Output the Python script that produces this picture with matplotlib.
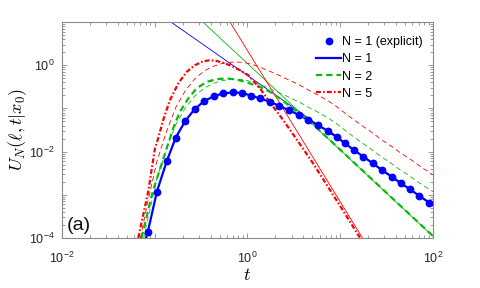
import matplotlib
matplotlib.use('Agg')
import matplotlib.pyplot as plt
from matplotlib.ticker import FixedLocator, FuncFormatter
import math

plt.rcParams['font.family'] = ['Liberation Sans', 'DejaVu Sans']
plt.rcParams['mathtext.fontset'] = 'cm'

# ---------------- data ----------------
# N = 1, explicit result (markers)
t_explicit = [0.0845, 0.1057, 0.1355, 0.1683, 0.2133, 0.270, 0.342, 0.436, 0.548, 0.692,
              0.873, 1.091, 1.365, 1.750, 2.203, 2.825, 3.622, 4.529, 5.794, 7.328,
              9.162, 11.25, 14.06, 17.74, 22.39, 27.99, 35.89, 44.87, 56.49, 71.12, 91.20]
u_explicit = [1.41e-4, 1.19e-3, 6.17e-3, 0.0209, 0.0509, 0.0964, 0.1476, 0.1923, 0.2218, 0.2344,
              0.2291, 0.1980, 0.1702, 0.1419, 0.1148, 0.0899, 0.0700, 0.0537, 0.0405, 0.0304,
              0.0221, 0.01556, 0.01089, 7.62e-3, 5.37e-3, 3.76e-3, 2.63e-3, 1.85e-3, 1.35e-3, 9.44e-4, 6.61e-4]

# N = 1 curve
t_n1 = [0.0806] + t_explicit + [100.0]
u_n1 = [1.0e-4] + u_explicit + [5.75e-4]

# N = 2 curve
t_n2 = [0.0722, 0.0951, 0.1346, 0.158, 0.187, 0.230, 0.283, 0.363, 0.466, 0.597, 0.766,
        1.02, 1.36, 1.75, 2.24, 2.87, 3.68, 4.72, 6.05, 8.09, 100.0]
u_n2 = [1.0e-4, 1.17e-3, 0.0119, 0.0345, 0.0834, 0.170, 0.290, 0.411, 0.475, 0.493, 0.468,
        0.390, 0.315, 0.242, 0.170, 0.112, 0.076, 0.049, 0.030, 0.0169, 1.11e-4]

# N = 5 curve
t_n5 = [0.0665, 0.0851, 0.1007, 0.1076, 0.1236, 0.146, 0.1795, 0.221, 0.272, 0.333, 0.394,
        0.466, 0.548, 0.647, 0.830, 1.02, 1.36, 1.897, 2.43, 3.25, 5.0, 10.0, 16.3]
u_n5 = [1.0e-4, 1.17e-3, 0.0119, 0.0185, 0.0537, 0.1556, 0.378, 0.70, 1.0, 1.236, 1.30,
        1.256, 1.13, 1.0, 0.767, 0.587, 0.294, 0.109, 0.0537, 0.0219, 5.7e-3, 5.5e-4, 1.02e-4]

# thin dashed reference curves (N = 2 and N = 5)
t_ref = [0.0845, 0.1057, 0.1355, 0.1683, 0.2133, 0.270, 0.342, 0.436, 0.548, 0.692,
         0.873, 1.091, 1.365, 1.750, 2.203, 2.825, 3.622, 4.529, 5.794, 7.328,
         9.162, 11.25, 14.06, 17.74, 22.39, 27.99, 35.89, 44.87, 56.49, 71.12, 100.0]
u_ref2 = [2.8e-4, 2.4e-3, 0.0124, 0.0418, 0.102, 0.193, 0.295, 0.385, 0.445, 0.470,
          0.465, 0.420, 0.355, 0.285, 0.230, 0.180, 0.140, 0.107, 0.081, 0.0608,
          0.0442, 0.0311, 0.0218, 0.01524, 0.01074, 7.52e-3, 5.26e-3, 3.70e-3, 2.70e-3, 1.89e-3, 1.18e-3]
u_ref5 = [7.05e-4, 5.95e-3, 0.0309, 0.1045, 0.2545, 0.482, 0.738, 0.96, 1.11, 1.18,
          1.17, 1.07, 0.90, 0.72, 0.58, 0.45, 0.35, 0.2685, 0.2025, 0.152,
          0.1105, 0.0778, 0.0545, 0.0381, 0.0269, 0.0188, 0.01315, 9.25e-3, 6.75e-3, 4.72e-3, 2.9e-3]
t_ref_start = [0.0762, 0.0702]          # where the dashed N=2 / N=5 curves leave the bottom

# thin straight asymptotes (two end points each)
t_asym1, u_asym1 = [0.1, 100.0], [18.3, 5.8e-4]
t_asym2, u_asym2 = [0.2, 100.0], [27.4, 1.09e-4]
t_asym5, u_asym5 = [0.5, 20.0], [24.8, 6.1e-5]

labels = ['N = 1 (explicit)', 'N = 1', 'N = 2', 'N = 5']

# ---------------- figure ----------------
blue = (0.0, 0.0, 1.0)
green = (0.05, 0.72, 0.05)
red = (1.0, 0.0, 0.0)

fig = plt.figure(figsize=(4.8, 2.88), dpi=100)
ax = fig.add_axes([0.129, 0.1736, 0.773, 0.750])

# thin lines
ax.plot(t_asym1, u_asym1, color=blue, lw=0.6)
ax.plot(t_asym2, u_asym2, color=green, lw=0.6)
ax.plot(t_asym5, u_asym5, color=red, lw=0.6)
ax.plot([t_ref_start[0]] + t_ref, [1e-4] + u_ref2, color=green, lw=0.6, dashes=(6, 4))
ax.plot([t_ref_start[1]] + t_ref, [1e-4] + u_ref5, color=red, lw=0.6, dashes=(6, 4))

# thick curves
ax.plot(t_explicit, u_explicit, 'o', color=blue, ms=4.6, mec=blue, label=labels[0], zorder=5)
ax.plot(t_n1, u_n1, color=blue, lw=1.6, label=labels[1], zorder=4)
ax.plot(t_n2, u_n2, color=green, lw=1.6, dashes=(2.8, 1.8), label=labels[2], zorder=4)
ax.plot(t_n5, u_n5, color=red, lw=1.6, dashes=(2.2, 1.0, 0.7, 1.0), label=labels[3], zorder=4)

ax.set_xscale('log')
ax.set_yscale('log')
ax.set_xlim(1e-2, 1e2)
ax.set_ylim(1e-4, 1e1)

def fmt(v, pos):
    e = int(round(math.log10(v)))
    if e % 2:
        return ''
    return r'$\mathregular{10^{%d}}$' % e

ax.xaxis.set_major_locator(FixedLocator([1e-2, 1e-1, 1e0, 1e1, 1e2]))
ax.yaxis.set_major_locator(FixedLocator([1e-4, 1e-3, 1e-2, 1e-1, 1e0, 1e1]))
ax.xaxis.set_major_formatter(FuncFormatter(fmt))
ax.yaxis.set_major_formatter(FuncFormatter(fmt))
minors = [m * 10.0 ** e for e in range(-4, 2) for m in range(2, 10)]
ax.xaxis.set_minor_locator(FixedLocator([v for v in minors if 1e-2 < v < 1e2]))
ax.yaxis.set_minor_locator(FixedLocator([v for v in minors if 1e-4 < v < 1e1]))

gray = '#8a8a8a'
for s in ax.spines.values():
    s.set_color(gray)
    s.set_linewidth(0.8)
ax.tick_params(which='both', direction='in', top=True, right=True, color=gray,
               labelcolor='#262626', labelsize=9, width=0.6)
ax.tick_params(which='major', length=3.5)
ax.tick_params(which='minor', length=2)
ax.tick_params(axis='x', which='major', pad=9.5)
ax.tick_params(axis='y', which='major', pad=5)

ax.set_xlabel(r'$t$', fontsize=13)
ax.set_ylabel(r'$U_N(\ell,t|x_0)$', fontsize=13)
ax.xaxis.set_label_coords(0.5, -0.135)
ax.yaxis.set_label_coords(-0.09, 0.5)

ax.text(0.013, 0.035, '(a)', transform=ax.transAxes, fontsize=14, color='#111111')

leg = ax.legend(loc='upper right', bbox_to_anchor=(0.9865, 0.958), borderaxespad=0,
                frameon=False, fontsize=9, handlelength=2.0, handletextpad=0.1,
                labelspacing=0.42, numpoints=1)

fig.savefig('out.png', dpi=100)
